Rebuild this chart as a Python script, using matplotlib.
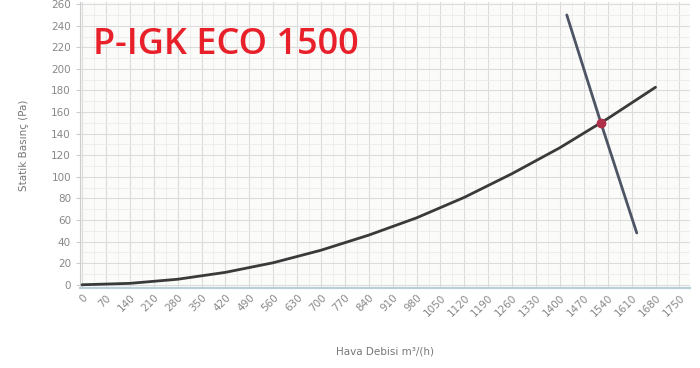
import matplotlib.pyplot as plt
from matplotlib.ticker import MultipleLocator

# Sistem eğrisi (okunan noktalar)
sys_x = [0, 140, 280, 420, 560, 700, 840, 980, 1120, 1260, 1400, 1540, 1680]
sys_y = [0, 1.3, 5.1, 11.5, 20.4, 32, 46, 62, 81, 103, 127, 154, 183]

# Fan eğrisi
fan_x = [1420, 1520, 1625]
fan_y = [250, 150, 48]

# Çalışma noktası
op_x = [1520]
op_y = [150]

xticks = list(range(0, 1751, 70))
yticks = list(range(0, 261, 20))

fig = plt.figure(figsize=(7, 3.68), dpi=100)
ax = fig.add_axes([80 / 700, 80 / 368, 610 / 700, 286 / 368])
ax.set_facecolor('#fbfbf9')

ax.plot(sys_x, sys_y, color='#3a3a3a', lw=2, solid_capstyle='round', zorder=3)
ax.plot(fan_x, fan_y, color='#4d5464', lw=2, solid_capstyle='round', zorder=3)
ax.plot(op_x, op_y, 'o', color='#b0304a', ms=6, zorder=4)

ax.set_xlim(-6, 1781)
ax.set_ylim(-3, 262)
ax.set_xticks(xticks)
ax.set_yticks(yticks)
ax.xaxis.set_minor_locator(MultipleLocator(35))
ax.yaxis.set_minor_locator(MultipleLocator(10))
ax.grid(which='major', color='#dcdcdc', lw=0.8)
ax.grid(which='minor', color='#ececec', lw=0.6)
ax.set_axisbelow(True)

ax.tick_params(axis='both', which='both', labelsize=7.5, colors='#888888', length=0)
ax.tick_params(axis='y', which='major', length=3, color='#cccccc')
for lab in ax.get_xticklabels():
    lab.set_rotation(45)
    lab.set_ha('right')
    lab.set_rotation_mode('anchor')

for s in ['top', 'right']:
    ax.spines[s].set_visible(False)
ax.spines['left'].set_color('#cccccc')
ax.spines['bottom'].set_color('#b8cfd8')
ax.spines['bottom'].set_linewidth(1.5)

ax.set_xlabel('Hava Debisi m³/(h)', fontsize=7.5, color='#777777', labelpad=20)
ax.set_ylabel('Statik Basınç (Pa)', fontsize=7.5, color='#777777', labelpad=16)

fig.text(93 / 700, 1 - 45 / 368, 'P-IGK ECO 1500', color='#e8202a', fontsize=26,
         fontweight='semibold', family='Open Sans', va='center', ha='left')

fig.savefig('out.png', dpi=100, facecolor='white')
